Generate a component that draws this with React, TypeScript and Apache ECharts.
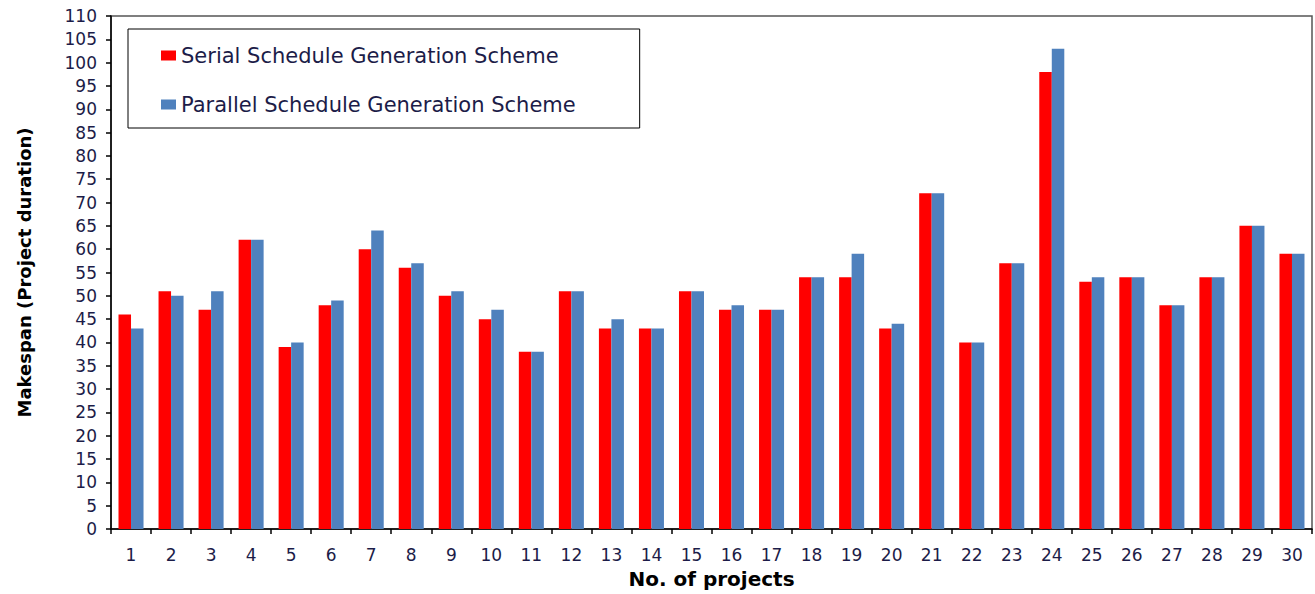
import React, { useEffect, useRef } from "react";
import * as echarts from "echarts";

const categories: string[] = Array.from({ length: 30 }, (_, i) => String(i + 1));
const serialSGS: number[] = [46, 51, 47, 62, 39, 48, 60, 56, 50, 45, 38, 51, 43, 43, 51, 47, 47, 54, 54, 43, 72, 40, 57, 98, 53, 54, 48, 54, 65, 59];
const parallelSGS: number[] = [43, 50, 51, 62, 40, 49, 64, 57, 51, 47, 38, 51, 45, 43, 51, 48, 47, 54, 59, 44, 72, 40, 57, 103, 54, 54, 48, 54, 65, 59];
const seriesNames: string[] = ["Serial Schedule Generation Scheme", "Parallel Schedule Generation Scheme"];
const xTitle = "No. of projects";
const yTitle = "Makespan (Project duration)";

export default function App() {
  const ref = useRef<HTMLDivElement>(null);
  useEffect(() => {
    document.body.style.margin = "0";
    const chart = echarts.init(ref.current!, null, { renderer: "svg" });
    const tickColor = "#1c1c48";
    const font = "'DejaVu Sans', 'Liberation Sans', Arial, sans-serif";
    chart.setOption({
      animation: false,
      backgroundColor: "#ffffff",
      grid: {
        left: 111,
        right: 3,
        top: 16,
        bottom: 65,
        show: true,
        borderColor: "#555555",
        borderWidth: 1.5,
        backgroundColor: "transparent",
      },
      legend: {
        orient: "vertical",
        left: 128,
        top: 29,
        padding: [16, 64, 13, 33],
        itemGap: 28,
        itemWidth: 15,
        itemHeight: 10,
        icon: "rect",
        borderColor: "#000000",
        borderWidth: 1,
        backgroundColor: "#ffffff",
        textStyle: { fontFamily: font, fontSize: 21, color: tickColor },
        data: seriesNames,
      },
      xAxis: {
        type: "category",
        data: categories,
        boundaryGap: true,
        name: xTitle,
        nameLocation: "middle",
        nameGap: 40,
        nameTextStyle: { fontFamily: font, fontSize: 20, fontWeight: "bold", color: "#000000" },
        axisLine: { show: true, lineStyle: { color: "#000000", width: 1.5 } },
        axisTick: { show: true, inside: false, length: 5, alignWithLabel: false, lineStyle: { color: "#000000", width: 1.5 } },
        axisLabel: { fontFamily: font, fontSize: 17, color: tickColor, margin: 17, interval: 0 },
        splitLine: { show: false },
      },
      yAxis: {
        type: "value",
        min: 0,
        max: 110,
        interval: 5,
        name: yTitle,
        nameLocation: "middle",
        nameGap: 78,
        nameRotate: 90,
        nameTextStyle: { fontFamily: font, fontSize: 18, fontWeight: "bold", color: "#000000" },
        axisLine: { show: true, lineStyle: { color: "#000000", width: 1.5 } },
        axisTick: { show: true, inside: false, length: 5, lineStyle: { color: "#000000", width: 1.5 } },
        axisLabel: { fontFamily: font, fontSize: 17, color: tickColor, margin: 14 },
        splitLine: { show: false },
      },
      series: [
        {
          name: seriesNames[0],
          type: "bar",
          data: serialSGS,
          barGap: "0%",
          barCategoryGap: "37.5%",
          itemStyle: { color: "#ff0000" },
        },
        {
          name: seriesNames[1],
          type: "bar",
          data: parallelSGS,
          barGap: "0%",
          barCategoryGap: "37.5%",
          itemStyle: { color: "#4f81bd" },
        },
      ],
    });
    return () => chart.dispose();
  }, []);
  return <div ref={ref} style={{ width: 1315, height: 594 }} />;
}
